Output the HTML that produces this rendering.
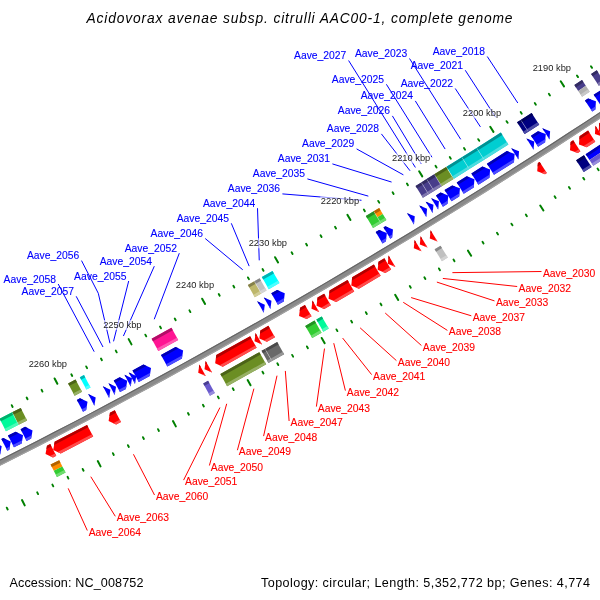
<!DOCTYPE html>
<html><head><meta charset="utf-8"><style>
html,body{margin:0;padding:0;background:#fff;}
body{width:600px;height:600px;overflow:hidden;position:relative;font-family:"Liberation Sans",sans-serif;}
svg{position:absolute;left:0;top:0;will-change:transform;}
</style></head><body>
<svg width="600" height="600" viewBox="0 0 600 600" font-family="Liberation Sans, sans-serif">
<rect width="600" height="600" fill="#fff"/>
<line x1="487.25" y1="56.50" x2="517.81" y2="103.00" stroke="#0000ff" stroke-width="1"/>
<line x1="465.25" y1="70.25" x2="495.62" y2="117.21" stroke="#0000ff" stroke-width="1"/>
<line x1="455.25" y1="88.50" x2="480.43" y2="126.87" stroke="#0000ff" stroke-width="1"/>
<line x1="409.50" y1="58.50" x2="460.70" y2="139.31" stroke="#0000ff" stroke-width="1"/>
<line x1="415.30" y1="100.90" x2="445.14" y2="149.05" stroke="#0000ff" stroke-width="1"/>
<line x1="386.40" y1="84.30" x2="431.96" y2="157.24" stroke="#0000ff" stroke-width="1"/>
<line x1="392.40" y1="115.90" x2="421.23" y2="163.88" stroke="#0000ff" stroke-width="1"/>
<line x1="348.60" y1="60.50" x2="415.40" y2="167.47" stroke="#0000ff" stroke-width="1"/>
<line x1="381.40" y1="133.90" x2="410.04" y2="170.77" stroke="#0000ff" stroke-width="1"/>
<line x1="356.60" y1="148.90" x2="403.39" y2="174.85" stroke="#0000ff" stroke-width="1"/>
<line x1="332.40" y1="163.90" x2="391.59" y2="182.05" stroke="#0000ff" stroke-width="1"/>
<line x1="307.40" y1="178.90" x2="368.34" y2="196.14" stroke="#0000ff" stroke-width="1"/>
<line x1="282.40" y1="193.90" x2="361.47" y2="200.28" stroke="#0000ff" stroke-width="1"/>
<line x1="257.50" y1="208.20" x2="259.24" y2="260.35" stroke="#0000ff" stroke-width="1"/>
<line x1="231.30" y1="223.30" x2="249.16" y2="266.13" stroke="#0000ff" stroke-width="1"/>
<line x1="205.20" y1="238.50" x2="242.75" y2="269.79" stroke="#0000ff" stroke-width="1"/>
<line x1="179.30" y1="253.20" x2="154.23" y2="319.26" stroke="#0000ff" stroke-width="1"/>
<line x1="154.30" y1="266.20" x2="123.42" y2="336.02" stroke="#0000ff" stroke-width="1"/>
<line x1="128.70" y1="281.00" x2="113.52" y2="341.36" stroke="#0000ff" stroke-width="1"/>
<polyline points="81.50,260.60 98.30,293.30 109.98,343.26" fill="none" stroke="#0000ff" stroke-width="1"/>
<line x1="76.20" y1="296.30" x2="103.00" y2="347.00" stroke="#0000ff" stroke-width="1"/>
<line x1="58.20" y1="284.00" x2="94.20" y2="351.70" stroke="#0000ff" stroke-width="1"/>
<line x1="452.39" y1="272.65" x2="541.50" y2="271.50" stroke="#ff0000" stroke-width="1"/>
<line x1="442.85" y1="278.45" x2="517.20" y2="286.50" stroke="#ff0000" stroke-width="1"/>
<line x1="436.87" y1="282.08" x2="494.50" y2="300.90" stroke="#ff0000" stroke-width="1"/>
<line x1="411.14" y1="297.59" x2="471.30" y2="315.80" stroke="#ff0000" stroke-width="1"/>
<line x1="403.26" y1="302.30" x2="447.40" y2="330.40" stroke="#ff0000" stroke-width="1"/>
<line x1="385.22" y1="313.04" x2="421.40" y2="345.50" stroke="#ff0000" stroke-width="1"/>
<line x1="360.13" y1="327.83" x2="396.40" y2="360.60" stroke="#ff0000" stroke-width="1"/>
<line x1="342.63" y1="338.05" x2="371.60" y2="374.60" stroke="#ff0000" stroke-width="1"/>
<line x1="333.76" y1="343.19" x2="345.40" y2="390.60" stroke="#ff0000" stroke-width="1"/>
<line x1="324.49" y1="348.56" x2="316.40" y2="406.60" stroke="#ff0000" stroke-width="1"/>
<line x1="285.34" y1="370.95" x2="289.10" y2="421.00" stroke="#ff0000" stroke-width="1"/>
<line x1="277.01" y1="375.67" x2="263.60" y2="436.10" stroke="#ff0000" stroke-width="1"/>
<line x1="253.92" y1="388.66" x2="237.40" y2="450.20" stroke="#ff0000" stroke-width="1"/>
<line x1="226.70" y1="403.79" x2="209.40" y2="465.50" stroke="#ff0000" stroke-width="1"/>
<line x1="219.95" y1="407.52" x2="183.60" y2="480.10" stroke="#ff0000" stroke-width="1"/>
<line x1="133.44" y1="454.28" x2="154.50" y2="495.00" stroke="#ff0000" stroke-width="1"/>
<line x1="90.79" y1="476.68" x2="115.30" y2="516.30" stroke="#ff0000" stroke-width="1"/>
<line x1="68.19" y1="488.37" x2="87.30" y2="530.50" stroke="#ff0000" stroke-width="1"/>
<polygon points="653.56,76.28 636.55,87.71 619.51,99.08 602.43,110.39 585.30,121.65 568.14,132.84 550.95,143.98 533.71,155.06 516.44,166.08 499.13,177.04 481.78,187.94 464.39,198.79 446.97,209.57 429.51,220.29 412.02,230.96 394.49,241.56 376.92,252.11 359.32,262.60 341.68,273.02 324.00,283.39 306.30,293.69 288.55,303.94 270.77,314.13 252.96,324.25 235.11,334.31 217.23,344.32 199.32,354.26 181.37,364.14 163.38,373.96 145.37,383.72 127.32,393.42 109.23,403.05 91.12,412.63 72.97,422.14 54.79,431.59 36.58,440.98 18.34,450.30 0.06,459.57 -18.24,468.77 -36.58,477.91 -54.95,486.99 -52.48,492.01 -34.09,482.93 -15.74,473.78 2.59,464.57 20.88,455.29 39.14,445.96 57.37,436.56 75.56,427.10 93.73,417.58 111.86,408.00 129.96,398.35 148.03,388.65 166.06,378.88 184.06,369.05 202.02,359.16 219.96,349.21 237.85,339.20 255.72,329.12 273.55,318.99 291.34,308.79 309.10,298.54 326.83,288.22 344.52,277.85 362.17,267.41 379.79,256.92 397.38,246.36 414.92,235.75 432.44,225.07 449.91,214.34 467.35,203.54 484.75,192.69 502.11,181.78 519.44,170.80 536.73,159.77 553.98,148.68 571.20,137.54 588.37,126.33 605.51,115.07 622.61,103.74 639.67,92.36 656.69,80.92" fill="#8a8a8a"/>
<polygon points="653.56,76.28 636.55,87.71 619.51,99.08 602.43,110.39 585.30,121.65 568.14,132.84 550.95,143.98 533.71,155.06 516.44,166.08 499.13,177.04 481.78,187.94 464.39,198.79 446.97,209.57 429.51,220.29 412.02,230.96 394.49,241.56 376.92,252.11 359.32,262.60 341.68,273.02 324.00,283.39 306.30,293.69 288.55,303.94 270.77,314.13 252.96,324.25 235.11,334.31 217.23,344.32 199.32,354.26 181.37,364.14 163.38,373.96 145.37,383.72 127.32,393.42 109.23,403.05 91.12,412.63 72.97,422.14 54.79,431.59 36.58,440.98 18.34,450.30 0.06,459.57 -18.24,468.77 -36.58,477.91 -54.95,486.99 -54.47,487.97 -36.09,478.90 -17.75,469.75 0.56,460.55 18.84,451.28 37.08,441.96 55.30,432.57 73.48,423.11 91.63,413.60 109.75,404.02 127.84,394.39 145.89,384.69 163.91,374.93 181.89,365.10 199.85,355.22 217.77,345.28 235.65,335.27 253.50,325.21 271.32,315.08 289.10,304.89 306.85,294.65 324.56,284.34 342.24,273.97 359.88,263.54 377.48,253.05 395.05,242.51 412.59,231.90 430.09,221.23 447.55,210.51 464.97,199.72 482.36,188.87 499.71,177.97 517.03,167.01 534.30,155.98 551.54,144.90 568.74,133.76 585.91,122.57 603.03,111.31 620.12,99.99 637.17,88.62 654.17,77.19" fill="#646464"/>
<polygon points="656.08,80.01 639.06,91.45 622.00,102.83 604.90,114.15 587.77,125.41 570.60,136.61 553.39,147.76 536.14,158.85 518.85,169.88 501.53,180.85 484.17,191.76 466.77,202.61 449.33,213.40 431.86,224.13 414.35,234.81 396.81,245.42 379.23,255.97 361.61,266.47 343.96,276.90 326.27,287.27 308.55,297.59 290.80,307.84 273.00,318.03 255.18,328.17 237.32,338.24 219.42,348.25 201.49,358.20 183.53,368.09 165.53,377.91 147.50,387.68 129.44,397.38 111.34,407.03 93.22,416.61 75.05,426.13 56.86,435.58 38.64,444.98 20.38,454.31 2.09,463.59 -16.23,472.79 -34.58,481.94 -52.96,491.03 -52.48,492.01 -34.09,482.93 -15.74,473.78 2.59,464.57 20.88,455.29 39.14,445.96 57.37,436.56 75.56,427.10 93.73,417.58 111.86,408.00 129.96,398.35 148.03,388.65 166.06,378.88 184.06,369.05 202.02,359.16 219.96,349.21 237.85,339.20 255.72,329.12 273.55,318.99 291.34,308.79 309.10,298.54 326.83,288.22 344.52,277.85 362.17,267.41 379.79,256.92 397.38,246.36 414.92,235.75 432.44,225.07 449.91,214.34 467.35,203.54 484.75,192.69 502.11,181.78 519.44,170.80 536.73,159.77 553.98,148.68 571.20,137.54 588.37,126.33 605.51,115.07 622.61,103.74 639.67,92.36 656.69,80.92" fill="#a2a2a2"/>
<line x1="619.98" y1="49.21" x2="618.87" y2="47.55" stroke="#008000" stroke-width="1.9" stroke-linecap="round"/>
<line x1="606.03" y1="58.56" x2="604.92" y2="56.89" stroke="#008000" stroke-width="1.9" stroke-linecap="round"/>
<line x1="592.05" y1="67.86" x2="590.94" y2="66.19" stroke="#008000" stroke-width="1.9" stroke-linecap="round"/>
<line x1="578.04" y1="77.12" x2="576.94" y2="75.45" stroke="#008000" stroke-width="1.9" stroke-linecap="round"/>
<line x1="564.01" y1="86.34" x2="560.72" y2="81.32" stroke="#008000" stroke-width="2.0" stroke-linecap="round"/>
<line x1="549.95" y1="95.53" x2="548.86" y2="93.85" stroke="#008000" stroke-width="1.9" stroke-linecap="round"/>
<line x1="535.86" y1="104.67" x2="534.78" y2="102.99" stroke="#008000" stroke-width="1.9" stroke-linecap="round"/>
<line x1="521.75" y1="113.78" x2="520.67" y2="112.09" stroke="#008000" stroke-width="1.9" stroke-linecap="round"/>
<line x1="507.62" y1="122.84" x2="506.54" y2="121.16" stroke="#008000" stroke-width="1.9" stroke-linecap="round"/>
<line x1="493.46" y1="131.87" x2="490.24" y2="126.80" stroke="#008000" stroke-width="2.0" stroke-linecap="round"/>
<line x1="479.27" y1="140.85" x2="478.20" y2="139.16" stroke="#008000" stroke-width="1.9" stroke-linecap="round"/>
<line x1="465.06" y1="149.80" x2="463.99" y2="148.10" stroke="#008000" stroke-width="1.9" stroke-linecap="round"/>
<line x1="450.82" y1="158.70" x2="449.76" y2="157.01" stroke="#008000" stroke-width="1.9" stroke-linecap="round"/>
<line x1="436.56" y1="167.57" x2="435.50" y2="165.87" stroke="#008000" stroke-width="1.9" stroke-linecap="round"/>
<line x1="422.27" y1="176.39" x2="419.13" y2="171.29" stroke="#008000" stroke-width="2.0" stroke-linecap="round"/>
<line x1="407.96" y1="185.18" x2="406.92" y2="183.47" stroke="#008000" stroke-width="1.9" stroke-linecap="round"/>
<line x1="393.62" y1="193.93" x2="392.59" y2="192.22" stroke="#008000" stroke-width="1.9" stroke-linecap="round"/>
<line x1="379.26" y1="202.63" x2="378.23" y2="200.92" stroke="#008000" stroke-width="1.9" stroke-linecap="round"/>
<line x1="364.88" y1="211.29" x2="363.85" y2="209.58" stroke="#008000" stroke-width="1.9" stroke-linecap="round"/>
<line x1="350.47" y1="219.92" x2="347.40" y2="214.77" stroke="#008000" stroke-width="2.0" stroke-linecap="round"/>
<line x1="336.04" y1="228.50" x2="335.02" y2="226.78" stroke="#008000" stroke-width="1.9" stroke-linecap="round"/>
<line x1="321.58" y1="237.05" x2="320.56" y2="235.32" stroke="#008000" stroke-width="1.9" stroke-linecap="round"/>
<line x1="307.10" y1="245.55" x2="306.09" y2="243.82" stroke="#008000" stroke-width="1.9" stroke-linecap="round"/>
<line x1="292.59" y1="254.01" x2="291.59" y2="252.28" stroke="#008000" stroke-width="1.9" stroke-linecap="round"/>
<line x1="278.06" y1="262.43" x2="275.06" y2="257.24" stroke="#008000" stroke-width="2.0" stroke-linecap="round"/>
<line x1="263.51" y1="270.81" x2="262.52" y2="269.08" stroke="#008000" stroke-width="1.9" stroke-linecap="round"/>
<line x1="248.94" y1="279.15" x2="247.95" y2="277.41" stroke="#008000" stroke-width="1.9" stroke-linecap="round"/>
<line x1="234.34" y1="287.45" x2="233.35" y2="285.71" stroke="#008000" stroke-width="1.9" stroke-linecap="round"/>
<line x1="219.71" y1="295.71" x2="218.73" y2="293.96" stroke="#008000" stroke-width="1.9" stroke-linecap="round"/>
<line x1="205.07" y1="303.92" x2="202.14" y2="298.68" stroke="#008000" stroke-width="2.0" stroke-linecap="round"/>
<line x1="190.40" y1="312.10" x2="189.43" y2="310.35" stroke="#008000" stroke-width="1.9" stroke-linecap="round"/>
<line x1="175.71" y1="320.23" x2="174.74" y2="318.48" stroke="#008000" stroke-width="1.9" stroke-linecap="round"/>
<line x1="160.99" y1="328.32" x2="160.03" y2="326.57" stroke="#008000" stroke-width="1.9" stroke-linecap="round"/>
<line x1="146.26" y1="336.37" x2="145.30" y2="334.62" stroke="#008000" stroke-width="1.9" stroke-linecap="round"/>
<line x1="131.50" y1="344.38" x2="128.64" y2="339.11" stroke="#008000" stroke-width="2.0" stroke-linecap="round"/>
<line x1="116.72" y1="352.35" x2="115.77" y2="350.59" stroke="#008000" stroke-width="1.9" stroke-linecap="round"/>
<line x1="101.91" y1="360.28" x2="100.97" y2="358.51" stroke="#008000" stroke-width="1.9" stroke-linecap="round"/>
<line x1="87.09" y1="368.16" x2="86.15" y2="366.40" stroke="#008000" stroke-width="1.9" stroke-linecap="round"/>
<line x1="72.24" y1="376.01" x2="71.31" y2="374.24" stroke="#008000" stroke-width="1.9" stroke-linecap="round"/>
<line x1="57.37" y1="383.81" x2="54.59" y2="378.49" stroke="#008000" stroke-width="2.0" stroke-linecap="round"/>
<line x1="42.47" y1="391.57" x2="41.55" y2="389.79" stroke="#008000" stroke-width="1.9" stroke-linecap="round"/>
<line x1="27.56" y1="399.28" x2="26.64" y2="397.51" stroke="#008000" stroke-width="1.9" stroke-linecap="round"/>
<line x1="12.62" y1="406.96" x2="11.71" y2="405.18" stroke="#008000" stroke-width="1.9" stroke-linecap="round"/>
<line x1="-2.33" y1="414.59" x2="-3.24" y2="412.81" stroke="#008000" stroke-width="1.9" stroke-linecap="round"/>
<line x1="-17.31" y1="422.19" x2="-20.02" y2="416.83" stroke="#008000" stroke-width="2.0" stroke-linecap="round"/>
<line x1="-32.31" y1="429.74" x2="-33.21" y2="427.95" stroke="#008000" stroke-width="1.9" stroke-linecap="round"/>
<line x1="-47.33" y1="437.24" x2="-48.22" y2="435.45" stroke="#008000" stroke-width="1.9" stroke-linecap="round"/>
<line x1="-62.37" y1="444.71" x2="-63.26" y2="442.92" stroke="#008000" stroke-width="1.9" stroke-linecap="round"/>
<line x1="668.59" y1="121.61" x2="669.71" y2="123.27" stroke="#008000" stroke-width="1.9" stroke-linecap="round"/>
<line x1="654.43" y1="131.09" x2="655.54" y2="132.75" stroke="#008000" stroke-width="1.9" stroke-linecap="round"/>
<line x1="640.25" y1="140.52" x2="641.35" y2="142.19" stroke="#008000" stroke-width="1.9" stroke-linecap="round"/>
<line x1="626.04" y1="149.92" x2="627.14" y2="151.59" stroke="#008000" stroke-width="1.9" stroke-linecap="round"/>
<line x1="611.80" y1="159.28" x2="615.09" y2="164.30" stroke="#008000" stroke-width="2.0" stroke-linecap="round"/>
<line x1="597.53" y1="168.60" x2="598.63" y2="170.27" stroke="#008000" stroke-width="1.9" stroke-linecap="round"/>
<line x1="583.24" y1="177.88" x2="584.33" y2="179.55" stroke="#008000" stroke-width="1.9" stroke-linecap="round"/>
<line x1="568.93" y1="187.11" x2="570.01" y2="188.80" stroke="#008000" stroke-width="1.9" stroke-linecap="round"/>
<line x1="554.59" y1="196.31" x2="555.66" y2="198.00" stroke="#008000" stroke-width="1.9" stroke-linecap="round"/>
<line x1="540.22" y1="205.47" x2="543.44" y2="210.53" stroke="#008000" stroke-width="2.0" stroke-linecap="round"/>
<line x1="525.82" y1="214.58" x2="526.89" y2="216.28" stroke="#008000" stroke-width="1.9" stroke-linecap="round"/>
<line x1="511.41" y1="223.66" x2="512.47" y2="225.35" stroke="#008000" stroke-width="1.9" stroke-linecap="round"/>
<line x1="496.96" y1="232.70" x2="498.02" y2="234.39" stroke="#008000" stroke-width="1.9" stroke-linecap="round"/>
<line x1="482.49" y1="241.69" x2="483.54" y2="243.39" stroke="#008000" stroke-width="1.9" stroke-linecap="round"/>
<line x1="468.00" y1="250.65" x2="471.14" y2="255.75" stroke="#008000" stroke-width="2.0" stroke-linecap="round"/>
<line x1="453.48" y1="259.56" x2="454.52" y2="261.26" stroke="#008000" stroke-width="1.9" stroke-linecap="round"/>
<line x1="438.93" y1="268.43" x2="439.97" y2="270.14" stroke="#008000" stroke-width="1.9" stroke-linecap="round"/>
<line x1="424.36" y1="277.26" x2="425.40" y2="278.98" stroke="#008000" stroke-width="1.9" stroke-linecap="round"/>
<line x1="409.77" y1="286.05" x2="410.80" y2="287.77" stroke="#008000" stroke-width="1.9" stroke-linecap="round"/>
<line x1="395.15" y1="294.80" x2="398.22" y2="299.96" stroke="#008000" stroke-width="2.0" stroke-linecap="round"/>
<line x1="380.50" y1="303.51" x2="381.52" y2="305.23" stroke="#008000" stroke-width="1.9" stroke-linecap="round"/>
<line x1="365.84" y1="312.18" x2="366.85" y2="313.90" stroke="#008000" stroke-width="1.9" stroke-linecap="round"/>
<line x1="351.14" y1="320.81" x2="352.15" y2="322.53" stroke="#008000" stroke-width="1.9" stroke-linecap="round"/>
<line x1="336.43" y1="329.39" x2="337.43" y2="331.12" stroke="#008000" stroke-width="1.9" stroke-linecap="round"/>
<line x1="321.69" y1="337.94" x2="324.69" y2="343.13" stroke="#008000" stroke-width="2.0" stroke-linecap="round"/>
<line x1="306.92" y1="346.44" x2="307.92" y2="348.17" stroke="#008000" stroke-width="1.9" stroke-linecap="round"/>
<line x1="292.13" y1="354.90" x2="293.12" y2="356.64" stroke="#008000" stroke-width="1.9" stroke-linecap="round"/>
<line x1="277.32" y1="363.32" x2="278.31" y2="365.06" stroke="#008000" stroke-width="1.9" stroke-linecap="round"/>
<line x1="262.49" y1="371.70" x2="263.47" y2="373.44" stroke="#008000" stroke-width="1.9" stroke-linecap="round"/>
<line x1="247.63" y1="380.03" x2="250.55" y2="385.27" stroke="#008000" stroke-width="2.0" stroke-linecap="round"/>
<line x1="232.74" y1="388.33" x2="233.71" y2="390.07" stroke="#008000" stroke-width="1.9" stroke-linecap="round"/>
<line x1="217.84" y1="396.58" x2="218.80" y2="398.33" stroke="#008000" stroke-width="1.9" stroke-linecap="round"/>
<line x1="202.91" y1="404.79" x2="203.87" y2="406.54" stroke="#008000" stroke-width="1.9" stroke-linecap="round"/>
<line x1="187.96" y1="412.96" x2="188.91" y2="414.71" stroke="#008000" stroke-width="1.9" stroke-linecap="round"/>
<line x1="172.98" y1="421.08" x2="175.84" y2="426.36" stroke="#008000" stroke-width="2.0" stroke-linecap="round"/>
<line x1="157.98" y1="429.17" x2="158.93" y2="430.93" stroke="#008000" stroke-width="1.9" stroke-linecap="round"/>
<line x1="142.96" y1="437.21" x2="143.91" y2="438.97" stroke="#008000" stroke-width="1.9" stroke-linecap="round"/>
<line x1="127.92" y1="445.21" x2="128.86" y2="446.98" stroke="#008000" stroke-width="1.9" stroke-linecap="round"/>
<line x1="112.86" y1="453.17" x2="113.79" y2="454.94" stroke="#008000" stroke-width="1.9" stroke-linecap="round"/>
<line x1="97.77" y1="461.08" x2="100.55" y2="466.40" stroke="#008000" stroke-width="2.0" stroke-linecap="round"/>
<line x1="82.66" y1="468.96" x2="83.58" y2="470.73" stroke="#008000" stroke-width="1.9" stroke-linecap="round"/>
<line x1="67.53" y1="476.79" x2="68.44" y2="478.56" stroke="#008000" stroke-width="1.9" stroke-linecap="round"/>
<line x1="52.37" y1="484.57" x2="53.29" y2="486.35" stroke="#008000" stroke-width="1.9" stroke-linecap="round"/>
<line x1="37.20" y1="492.32" x2="38.11" y2="494.10" stroke="#008000" stroke-width="1.9" stroke-linecap="round"/>
<line x1="22.00" y1="500.02" x2="24.71" y2="505.38" stroke="#008000" stroke-width="2.0" stroke-linecap="round"/>
<line x1="6.78" y1="507.68" x2="7.68" y2="509.47" stroke="#008000" stroke-width="1.9" stroke-linecap="round"/>
<line x1="-8.46" y1="515.30" x2="-7.57" y2="517.09" stroke="#008000" stroke-width="1.9" stroke-linecap="round"/>
<line x1="-23.72" y1="522.87" x2="-22.83" y2="524.67" stroke="#008000" stroke-width="1.9" stroke-linecap="round"/>
<polygon points="520.73,119.90 517.05,122.26 524.61,134.05 528.29,131.68" fill="#000080"/>
<polygon points="520.73,119.90 522.24,122.26 518.56,124.62 517.05,122.26 520.73,119.90" fill="#00005a"/>
<polygon points="523.09,131.69 526.78,129.33 528.29,131.68 524.61,134.05 523.09,131.69" fill="#4c4ca6"/>
<polygon points="531.63,112.89 520.73,119.90 528.29,131.68 539.22,124.65" fill="#000080"/>
<polygon points="531.63,112.89 533.14,115.24 522.24,122.26 520.73,119.90 531.63,112.89" fill="#00005a"/>
<polygon points="526.78,129.33 537.70,122.30 539.22,124.65 528.29,131.68 526.78,129.33" fill="#4c4ca6"/>
<polygon points="581.99,80.03 585.84,85.87 578.21,90.89 574.37,85.05 581.99,80.03" fill="#483d8b"/>
<polygon points="578.21,90.89 585.84,85.87 589.70,91.71 582.06,96.74 578.21,90.89" fill="#b0b0b0"/>
<polygon points="581.99,80.03 583.53,82.36 575.91,87.38 574.37,85.05 581.99,80.03" fill="#322b61"/>
<polygon points="580.52,94.40 588.16,89.37 589.70,91.71 582.06,96.74 580.52,94.40" fill="#c8c8c8"/>
<polygon points="596.74,70.26 591.11,73.99 598.84,85.67 604.49,81.93" fill="#483d8b"/>
<polygon points="596.74,70.26 598.29,72.59 592.66,76.33 591.11,73.99 596.74,70.26" fill="#322b61"/>
<polygon points="597.30,83.33 602.94,79.59 604.49,81.93 598.84,85.67 597.30,83.33" fill="#7f77ae"/>
<polygon points="526.47,138.56 534.24,141.41 533.59,149.67" fill="#0000ff"/>
<polygon points="529.57,139.70 527.89,140.78 526.47,138.56 529.57,139.70" fill="#0000b2"/>
<polygon points="533.59,149.67 532.16,147.45 533.85,146.37 533.59,149.67" fill="#4c4cff"/>
<polygon points="530.98,135.66 537.98,131.16 545.75,134.00 545.12,142.26 538.11,146.77" fill="#0000ff"/>
<polygon points="537.98,131.16 541.09,132.30 532.40,137.89 530.98,135.66 537.98,131.16" fill="#0000b2"/>
<polygon points="545.12,142.26 538.11,146.77 536.68,144.55 545.38,138.95 545.12,142.26" fill="#4c4cff"/>
<polygon points="542.33,128.35 550.11,131.18 549.49,139.44" fill="#0000ff"/>
<polygon points="545.44,129.49 543.77,130.57 542.33,128.35 545.44,129.49" fill="#0000b2"/>
<polygon points="549.49,139.44 548.06,137.22 549.74,136.14 549.49,139.44" fill="#4c4cff"/>
<polygon points="584.97,100.57 588.10,98.51 595.91,101.27 595.36,109.54 592.23,111.60" fill="#0000ff"/>
<polygon points="588.10,98.51 591.23,99.62 586.43,102.78 584.97,100.57 588.10,98.51" fill="#0000b2"/>
<polygon points="595.36,109.54 592.23,111.60 590.78,109.39 595.58,106.23 595.36,109.54" fill="#4c4cff"/>
<polygon points="593.71,94.82 615.32,80.48 623.14,83.20 622.64,91.47 600.98,105.83" fill="#0000ff"/>
<polygon points="615.32,80.48 618.45,81.57 595.16,97.02 593.71,94.82 615.32,80.48" fill="#0000b2"/>
<polygon points="622.64,91.47 600.98,105.83 599.52,103.63 622.84,88.16 622.64,91.47" fill="#4c4cff"/>
<polygon points="461.84,157.24 446.55,166.78 453.94,178.67 469.27,169.11" fill="#00ced1"/>
<polygon points="461.84,157.24 463.32,159.62 448.03,169.16 446.55,166.78 461.84,157.24" fill="#009092"/>
<polygon points="452.47,176.29 467.78,166.74 469.27,169.11 453.94,178.67 452.47,176.29" fill="#4cdddf"/>
<polygon points="476.69,147.92 461.84,157.24 469.27,169.11 484.15,159.76" fill="#00ced1"/>
<polygon points="476.69,147.92 478.18,150.29 463.32,159.62 461.84,157.24 476.69,147.92" fill="#009092"/>
<polygon points="467.78,166.74 482.66,157.39 484.15,159.76 469.27,169.11 467.78,166.74" fill="#4cdddf"/>
<polygon points="500.86,132.61 476.69,147.92 484.15,159.76 508.38,144.42" fill="#00ced1"/>
<polygon points="500.86,132.61 502.36,134.97 478.18,150.29 476.69,147.92 500.86,132.61" fill="#009092"/>
<polygon points="482.66,157.39 506.88,142.06 508.38,144.42 484.15,159.76 482.66,157.39" fill="#4cdddf"/>
<polygon points="444.58,190.12 452.24,185.38 459.97,188.35 459.20,196.60 451.53,201.35" fill="#0000ff"/>
<polygon points="452.24,185.38 455.33,186.57 445.97,192.37 444.58,190.12 452.24,185.38" fill="#0000b2"/>
<polygon points="459.20,196.60 451.53,201.35 450.14,199.10 459.51,193.30 459.20,196.60" fill="#4c4cff"/>
<polygon points="456.75,182.58 466.73,176.35 474.47,179.30 473.73,187.55 463.72,193.79" fill="#0000ff"/>
<polygon points="466.73,176.35 469.83,177.54 458.14,184.82 456.75,182.58 466.73,176.35" fill="#0000b2"/>
<polygon points="473.73,187.55 463.72,193.79 462.32,191.55 474.03,184.25 473.73,187.55" fill="#4c4cff"/>
<polygon points="471.39,173.44 482.40,166.54 490.14,169.46 489.43,177.71 478.39,184.63" fill="#0000ff"/>
<polygon points="482.40,166.54 485.50,167.71 472.79,175.68 471.39,173.44 482.40,166.54" fill="#0000b2"/>
<polygon points="489.43,177.71 478.39,184.63 476.99,182.40 489.71,174.41 489.43,177.71" fill="#4c4cff"/>
<polygon points="486.94,163.68 506.87,151.07 514.63,153.95 513.95,162.21 493.98,174.85" fill="#0000ff"/>
<polygon points="506.87,151.07 509.97,152.22 488.35,165.91 486.94,163.68 506.87,151.07" fill="#0000b2"/>
<polygon points="513.95,162.21 493.98,174.85 492.57,172.61 514.22,158.91 513.95,162.21" fill="#4c4cff"/>
<polygon points="511.28,148.26 519.04,151.14 518.37,159.40" fill="#0000ff"/>
<polygon points="514.38,149.42 512.69,150.49 511.28,148.26 514.38,149.42" fill="#0000b2"/>
<polygon points="518.37,159.40 516.95,157.17 518.64,156.10 518.37,159.40" fill="#4c4cff"/>
<polygon points="446.11,167.05 434.31,174.37 441.67,186.28 453.50,178.94" fill="#6b8e23"/>
<polygon points="446.11,167.05 447.59,169.43 435.78,176.75 434.31,174.37 446.11,167.05" fill="#4b6318"/>
<polygon points="440.20,183.90 452.02,176.57 453.50,178.94 441.67,186.28 440.20,183.90" fill="#97b065"/>
<polygon points="421.30,182.39 415.56,185.92 422.88,197.85 428.64,194.32" fill="#483d8b"/>
<polygon points="421.30,182.39 422.77,184.78 417.03,188.30 415.56,185.92 421.30,182.39" fill="#322b61"/>
<polygon points="421.42,195.46 427.17,191.93 428.64,194.32 422.88,197.85 421.42,195.46" fill="#7f77ae"/>
<polygon points="426.68,179.08 421.30,182.39 428.64,194.32 434.03,191.00" fill="#483d8b"/>
<polygon points="426.68,179.08 428.15,181.47 422.77,184.78 421.30,182.39 426.68,179.08" fill="#322b61"/>
<polygon points="427.17,191.93 432.56,188.62 434.03,191.00 428.64,194.32 427.17,191.93" fill="#7f77ae"/>
<polygon points="434.31,174.37 426.68,179.08 434.03,191.00 441.67,186.28" fill="#483d8b"/>
<polygon points="434.31,174.37 435.78,176.75 428.15,181.47 426.68,179.08 434.31,174.37" fill="#322b61"/>
<polygon points="432.56,188.62 440.20,183.90 441.67,186.28 434.03,191.00 432.56,188.62" fill="#7f77ae"/>
<polygon points="436.04,195.39 440.56,192.61 448.28,195.60 447.49,203.84 442.97,206.63" fill="#0000ff"/>
<polygon points="440.56,192.61 443.65,193.81 437.43,197.64 436.04,195.39 440.56,192.61" fill="#0000b2"/>
<polygon points="447.49,203.84 442.97,206.63 441.58,204.39 447.81,200.54 447.49,203.84" fill="#4c4cff"/>
<polygon points="431.22,198.36 438.94,201.36 438.14,209.61" fill="#0000ff"/>
<polygon points="434.31,199.56 432.61,200.61 431.22,198.36 434.31,199.56" fill="#0000b2"/>
<polygon points="438.14,209.61 436.75,207.36 438.46,206.31 438.14,209.61" fill="#4c4cff"/>
<polygon points="425.75,201.73 433.46,204.74 432.65,212.98" fill="#0000ff"/>
<polygon points="428.83,202.93 427.13,203.98 425.75,201.73 428.83,202.93" fill="#0000b2"/>
<polygon points="432.65,212.98 431.27,210.73 432.97,209.68 432.65,212.98" fill="#4c4cff"/>
<polygon points="419.38,205.62 427.09,208.64 426.27,216.88" fill="#0000ff"/>
<polygon points="422.46,206.83 420.76,207.88 419.38,205.62 422.46,206.83" fill="#0000b2"/>
<polygon points="426.27,216.88 424.89,214.63 426.60,213.59 426.27,216.88" fill="#4c4cff"/>
<polygon points="407.08,213.13 414.78,216.17 413.94,224.41" fill="#0000ff"/>
<polygon points="410.16,214.35 408.45,215.39 407.08,213.13 410.16,214.35" fill="#0000b2"/>
<polygon points="413.94,224.41 412.57,222.15 414.28,221.11 413.94,224.41" fill="#4c4cff"/>
<polygon points="373.77,211.32 365.86,216.07 373.07,228.07 380.99,223.31" fill="#32cd32"/>
<polygon points="373.77,211.32 375.21,213.72 367.30,218.47 365.86,216.07 373.77,211.32" fill="#239023"/>
<polygon points="371.62,225.67 379.55,220.91 380.99,223.31 373.07,228.07 371.62,225.67" fill="#70dc70"/>
<polygon points="379.16,208.07 382.78,214.06 377.38,217.31 373.77,211.32 379.16,208.07" fill="#ff8c00"/>
<polygon points="377.38,217.31 382.78,214.06 386.39,220.05 380.99,223.31 377.38,217.31" fill="#32cd32"/>
<polygon points="379.16,208.07 380.61,210.46 375.21,213.72 373.77,211.32 379.16,208.07" fill="#b26200"/>
<polygon points="379.55,220.91 384.95,217.66 386.39,220.05 380.99,223.31 379.55,220.91" fill="#70dc70"/>
<polygon points="375.74,232.07 379.14,230.03 386.82,233.11 385.94,241.34 382.53,243.39" fill="#0000ff"/>
<polygon points="379.14,230.03 382.21,231.26 377.10,234.33 375.74,232.07 379.14,230.03" fill="#0000b2"/>
<polygon points="385.94,241.34 382.53,243.39 381.17,241.12 386.29,238.05 385.94,241.34" fill="#4c4cff"/>
<polygon points="383.53,227.38 385.31,226.31 393.00,229.38 392.12,237.62 390.34,238.69" fill="#0000ff"/>
<polygon points="385.31,226.31 388.38,227.54 384.89,229.65 383.53,227.38 385.31,226.31" fill="#0000b2"/>
<polygon points="392.12,237.62 390.34,238.69 388.98,236.43 392.47,234.32 392.12,237.62" fill="#4c4cff"/>
<polygon points="254.34,281.36 247.86,285.06 254.79,297.22 261.28,293.52" fill="#bdb76b"/>
<polygon points="254.34,281.36 255.73,283.80 249.25,287.49 247.86,285.06 254.34,281.36" fill="#84804b"/>
<polygon points="253.40,294.79 259.89,291.09 261.28,293.52 254.79,297.22 253.40,294.79" fill="#d1cd97"/>
<polygon points="259.62,278.34 254.34,281.36 261.28,293.52 266.58,290.49" fill="#c0c0c0"/>
<polygon points="259.62,278.34 261.01,280.77 255.73,283.80 254.34,281.36 259.62,278.34" fill="#868686"/>
<polygon points="259.89,291.09 265.19,288.06 266.58,290.49 261.28,293.52 259.89,291.09" fill="#d3d3d3"/>
<polygon points="272.50,270.95 261.84,277.07 268.80,289.22 279.48,283.08" fill="#00ffff"/>
<polygon points="272.50,270.95 273.90,273.38 263.23,279.50 261.84,277.07 272.50,270.95" fill="#00b2b2"/>
<polygon points="267.41,286.79 278.09,280.66 279.48,283.08 268.80,289.22 267.41,286.79" fill="#4cffff"/>
<polygon points="271.31,293.31 277.15,289.96 284.77,293.19 283.73,301.41 277.87,304.77" fill="#0000ff"/>
<polygon points="277.15,289.96 280.20,291.26 272.62,295.61 271.31,293.31 277.15,289.96" fill="#0000b2"/>
<polygon points="283.73,301.41 277.87,304.77 276.56,302.48 284.15,298.12 283.73,301.41" fill="#4c4cff"/>
<polygon points="263.86,297.58 271.47,300.83 270.40,309.04" fill="#0000ff"/>
<polygon points="266.90,298.88 265.17,299.87 263.86,297.58 266.90,298.88" fill="#0000b2"/>
<polygon points="270.40,309.04 269.09,306.75 270.83,305.75 270.40,309.04" fill="#4c4cff"/>
<polygon points="257.21,301.37 264.82,304.63 263.74,312.84" fill="#0000ff"/>
<polygon points="260.25,302.67 258.52,303.66 257.21,301.37 260.25,302.67" fill="#0000b2"/>
<polygon points="263.74,312.84 262.43,310.54 264.17,309.55 263.74,312.84" fill="#4c4cff"/>
<polygon points="171.44,327.83 151.61,338.70 158.31,350.99 178.19,340.10" fill="#ff1493"/>
<polygon points="171.44,327.83 172.79,330.29 152.95,341.15 151.61,338.70 171.44,327.83" fill="#b20e67"/>
<polygon points="156.97,348.53 176.84,337.65 178.19,340.10 158.31,350.99 156.97,348.53" fill="#ff5ab3"/>
<polygon points="161.01,354.98 175.57,347.01 183.13,350.39 181.92,358.59 167.33,366.57" fill="#0000ff"/>
<polygon points="175.57,347.01 178.60,348.37 162.27,357.30 161.01,354.98 175.57,347.01" fill="#0000b2"/>
<polygon points="181.92,358.59 167.33,366.57 166.07,364.25 182.41,355.31 181.92,358.59" fill="#4c4cff"/>
<polygon points="75.52,379.47 68.10,383.38 74.61,395.77 82.05,391.86" fill="#6b8e23"/>
<polygon points="75.52,379.47 76.83,381.95 69.40,385.85 68.10,383.38 75.52,379.47" fill="#4b6318"/>
<polygon points="73.31,393.29 80.74,389.38 82.05,391.86 74.61,395.77 73.31,393.29" fill="#97b065"/>
<polygon points="83.99,375.01 79.84,377.20 86.37,389.58 90.54,387.38" fill="#00ffff"/>
<polygon points="83.99,375.01 85.30,377.48 81.15,379.67 79.84,377.20 83.99,375.01" fill="#00b2b2"/>
<polygon points="85.07,387.10 89.23,384.91 90.54,387.38 86.37,389.58 85.07,387.10" fill="#4cffff"/>
<polygon points="132.51,370.42 143.47,364.51 151.01,367.94 149.75,376.12 138.77,382.05" fill="#0000ff"/>
<polygon points="143.47,364.51 146.48,365.88 133.76,372.75 132.51,370.42 143.47,364.51" fill="#0000b2"/>
<polygon points="149.75,376.12 138.77,382.05 137.52,379.72 150.25,372.85 149.75,376.12" fill="#4c4cff"/>
<polygon points="128.73,372.46 136.26,375.90 134.98,384.09" fill="#0000ff"/>
<polygon points="131.74,373.84 129.98,374.79 128.73,372.46 131.74,373.84" fill="#0000b2"/>
<polygon points="134.98,384.09 133.73,381.76 135.49,380.81 134.98,384.09" fill="#4c4cff"/>
<polygon points="124.47,374.75 131.99,378.20 130.71,386.38" fill="#0000ff"/>
<polygon points="127.47,376.13 125.71,377.08 124.47,374.75 127.47,376.13" fill="#0000b2"/>
<polygon points="130.71,386.38 129.46,384.06 131.22,383.11 130.71,386.38" fill="#4c4cff"/>
<polygon points="113.78,380.46 119.71,377.30 127.23,380.76 125.94,388.94 120.00,392.11" fill="#0000ff"/>
<polygon points="119.71,377.30 122.71,378.68 115.03,382.79 113.78,380.46 119.71,377.30" fill="#0000b2"/>
<polygon points="125.94,388.94 120.00,392.11 118.76,389.78 126.45,385.66 125.94,388.94" fill="#4c4cff"/>
<polygon points="108.50,383.28 116.02,386.75 114.71,394.93" fill="#0000ff"/>
<polygon points="111.51,384.67 109.74,385.61 108.50,383.28 111.51,384.67" fill="#0000b2"/>
<polygon points="114.71,394.93 113.47,392.60 115.23,391.66 114.71,394.93" fill="#4c4cff"/>
<polygon points="102.90,386.26 110.42,389.74 109.10,397.92" fill="#0000ff"/>
<polygon points="105.91,387.65 104.14,388.59 102.90,386.26 105.91,387.65" fill="#0000b2"/>
<polygon points="109.10,397.92 107.86,395.58 109.63,394.65 109.10,397.92" fill="#4c4cff"/>
<polygon points="76.90,399.99 80.03,398.35 87.52,401.86 86.17,410.03 83.04,411.68" fill="#0000ff"/>
<polygon points="80.03,398.35 83.02,399.76 78.13,402.33 76.90,399.99 80.03,398.35" fill="#0000b2"/>
<polygon points="86.17,410.03 83.04,411.68 81.81,409.34 86.71,406.76 86.17,410.03" fill="#4c4cff"/>
<polygon points="88.21,394.04 95.71,397.54 94.37,405.71" fill="#0000ff"/>
<polygon points="91.21,395.44 89.45,396.37 88.21,394.04 91.21,395.44" fill="#0000b2"/>
<polygon points="94.37,405.71 93.14,403.38 94.91,402.44 94.37,405.71" fill="#4c4cff"/>
<polygon points="20.73,407.97 12.17,412.36 18.55,424.82 27.13,420.43" fill="#6b8e23"/>
<polygon points="20.73,407.97 22.01,410.46 13.45,414.85 12.17,412.36 20.73,407.97" fill="#4b6318"/>
<polygon points="17.27,422.33 25.85,417.94 27.13,420.43 18.55,424.82 17.27,422.33" fill="#97b065"/>
<polygon points="12.17,412.36 -0.38,418.76 5.97,431.24 18.55,424.82" fill="#00fa9a"/>
<polygon points="12.17,412.36 13.45,414.85 0.89,421.26 -0.38,418.76 12.17,412.36" fill="#00af6c"/>
<polygon points="4.70,428.74 17.27,422.33 18.55,424.82 5.97,431.24 4.70,428.74" fill="#4cfcb8"/>
<polygon points="20.61,429.16 25.09,426.87 32.55,430.46 31.11,438.61 26.62,440.91" fill="#0000ff"/>
<polygon points="25.09,426.87 28.07,428.31 21.81,431.51 20.61,429.16 25.09,426.87" fill="#0000b2"/>
<polygon points="31.11,438.61 26.62,440.91 25.42,438.56 31.68,435.35 31.11,438.61" fill="#4c4cff"/>
<polygon points="8.00,435.59 15.63,431.70 23.08,435.31 21.63,443.46 13.98,447.36" fill="#0000ff"/>
<polygon points="15.63,431.70 18.61,433.15 9.19,437.95 8.00,435.59 15.63,431.70" fill="#0000b2"/>
<polygon points="21.63,443.46 13.98,447.36 12.78,445.01 22.21,440.20 21.63,443.46" fill="#4c4cff"/>
<polygon points="1.36,438.96 3.33,437.96 10.78,441.58 9.31,449.73 7.33,450.74" fill="#0000ff"/>
<polygon points="3.33,437.96 6.31,439.41 2.55,441.32 1.36,438.96 3.33,437.96" fill="#0000b2"/>
<polygon points="9.31,449.73 7.33,450.74 6.13,448.38 9.90,446.47 9.31,449.73" fill="#4c4cff"/>
<polygon points="-16.11,447.79 -5.73,442.55 1.71,446.19 0.22,454.33 -10.18,459.58" fill="#0000ff"/>
<polygon points="-5.73,442.55 -2.76,444.01 -14.93,450.14 -16.11,447.79 -5.73,442.55" fill="#0000b2"/>
<polygon points="0.22,454.33 -10.18,459.58 -11.37,457.22 0.82,451.07 0.22,454.33" fill="#4c4cff"/>
<polygon points="539.69,161.91 537.87,163.08 537.22,171.33 544.99,174.20 546.81,173.03" fill="#ff0000"/>
<polygon points="539.69,161.91 541.12,164.14 537.61,166.38 537.87,163.08 539.69,161.91" fill="#b20000"/>
<polygon points="541.88,173.05 545.39,170.80 546.81,173.03 544.99,174.20 541.88,173.05" fill="#ff4c4c"/>
<polygon points="573.19,140.29 570.61,141.97 570.01,150.23 577.80,153.04 580.39,151.36" fill="#ff0000"/>
<polygon points="573.19,140.29 574.63,142.51 570.37,145.27 570.61,141.97 573.19,140.29" fill="#b20000"/>
<polygon points="574.68,151.92 578.95,149.15 580.39,151.36 577.80,153.04 574.68,151.92" fill="#ff4c4c"/>
<polygon points="588.04,130.61 579.54,136.16 578.96,144.42 586.75,147.22 595.27,141.65" fill="#ff0000"/>
<polygon points="588.04,130.61 589.49,132.82 579.31,139.46 579.54,136.16 588.04,130.61" fill="#b20000"/>
<polygon points="583.63,146.10 593.83,139.44 595.27,141.65 586.75,147.22 583.63,146.10" fill="#ff4c4c"/>
<polygon points="595.51,125.72 594.95,133.97 602.75,136.75" fill="#ff0000"/>
<polygon points="595.51,125.72 596.96,127.92 595.29,129.02 595.51,125.72" fill="#b20000"/>
<polygon points="599.63,135.64 601.30,134.54 602.75,136.75 599.63,135.64" fill="#ff4c4c"/>
<polygon points="624.19,106.78 599.20,123.29 598.64,131.55 606.45,134.32 631.49,117.77" fill="#ff0000"/>
<polygon points="624.19,106.78 625.65,108.97 598.98,126.60 599.20,123.29 624.19,106.78" fill="#b20000"/>
<polygon points="603.33,133.22 630.03,115.57 631.49,117.77 606.45,134.32 603.33,133.22" fill="#ff4c4c"/>
<polygon points="583.93,155.26 576.16,160.30 583.78,172.05 591.56,166.99" fill="#000080"/>
<polygon points="583.93,155.26 585.46,157.60 577.69,162.65 576.16,160.30 583.93,155.26" fill="#00005a"/>
<polygon points="582.26,169.70 590.04,164.65 591.56,166.99 583.78,172.05 582.26,169.70" fill="#4c4ca6"/>
<polygon points="620.75,131.13 624.60,136.97 589.47,160.01 585.65,154.14 620.75,131.13" fill="#0000ff"/>
<polygon points="589.47,160.01 624.60,136.97 628.46,142.81 593.29,165.87 589.47,160.01" fill="#6a5acd"/>
<polygon points="620.75,131.13 622.29,133.46 587.18,156.49 585.65,154.14 620.75,131.13" fill="#0000b2"/>
<polygon points="591.76,163.53 626.92,140.47 628.46,142.81 593.29,165.87 591.76,163.53" fill="#978cdc"/>
<polygon points="430.62,230.17 429.79,238.40 437.50,241.43" fill="#ff0000"/>
<polygon points="430.62,230.17 431.99,232.42 430.29,233.46 430.62,230.17" fill="#b20000"/>
<polygon points="434.42,240.22 436.12,239.18 437.50,241.43 434.42,240.22" fill="#ff4c4c"/>
<polygon points="420.66,236.24 419.82,244.47 427.52,247.51" fill="#ff0000"/>
<polygon points="420.66,236.24 422.03,238.49 420.33,239.53 420.66,236.24" fill="#b20000"/>
<polygon points="424.44,246.30 426.15,245.26 427.52,247.51 424.44,246.30" fill="#ff4c4c"/>
<polygon points="414.64,239.90 413.79,248.13 421.48,251.18" fill="#ff0000"/>
<polygon points="414.64,239.90 416.01,242.15 414.30,243.19 414.64,239.90" fill="#b20000"/>
<polygon points="418.40,249.96 420.12,248.93 421.48,251.18 418.40,249.96" fill="#ff4c4c"/>
<polygon points="440.53,245.67 434.64,249.27 441.93,261.22 447.83,257.62" fill="#c0c0c0"/>
<polygon points="440.53,245.67 441.99,248.06 436.10,251.66 434.64,249.27 440.53,245.67" fill="#868686"/>
<polygon points="440.47,258.83 446.37,255.23 447.83,257.62 441.93,261.22 440.47,258.83" fill="#d3d3d3"/>
<polygon points="388.62,255.59 387.73,263.82 395.41,266.91" fill="#ff0000"/>
<polygon points="388.62,255.59 389.98,257.85 388.27,258.88 388.62,255.59" fill="#b20000"/>
<polygon points="392.34,265.68 394.06,264.65 395.41,266.91 392.34,265.68" fill="#ff4c4c"/>
<polygon points="384.35,258.15 378.53,261.63 377.62,269.86 385.30,272.97 391.13,269.48" fill="#ff0000"/>
<polygon points="384.35,258.15 385.71,260.42 378.17,264.92 378.53,261.63 384.35,258.15" fill="#b20000"/>
<polygon points="382.23,271.73 389.78,267.21 391.13,269.48 385.30,272.97 382.23,271.73" fill="#ff4c4c"/>
<polygon points="373.88,264.41 352.20,277.27 351.25,285.49 358.91,288.63 380.63,275.75" fill="#ff0000"/>
<polygon points="373.88,264.41 375.23,266.68 351.82,280.56 352.20,277.27 373.88,264.41" fill="#b20000"/>
<polygon points="355.84,287.38 379.28,273.48 380.63,275.75 358.91,288.63 355.84,287.38" fill="#ff4c4c"/>
<polygon points="347.52,280.03 329.54,290.58 328.56,298.80 336.21,301.97 354.22,291.40" fill="#ff0000"/>
<polygon points="347.52,280.03 348.86,282.30 329.15,293.86 329.54,290.58 347.52,280.03" fill="#b20000"/>
<polygon points="333.15,300.70 352.88,289.13 354.22,291.40 336.21,301.97 333.15,300.70" fill="#ff4c4c"/>
<polygon points="324.14,293.73 317.54,297.57 316.54,305.79 324.18,308.98 330.79,305.14" fill="#ff0000"/>
<polygon points="324.14,293.73 325.47,296.01 317.14,300.86 317.54,297.57 324.14,293.73" fill="#b20000"/>
<polygon points="321.12,307.71 329.46,302.86 330.79,305.14 324.18,308.98 321.12,307.71" fill="#ff4c4c"/>
<polygon points="312.50,300.50 311.49,308.72 319.12,311.92" fill="#ff0000"/>
<polygon points="312.50,300.50 313.82,302.78 312.10,303.79 312.50,300.50" fill="#b20000"/>
<polygon points="316.07,310.64 317.80,309.63 319.12,311.92 316.07,310.64" fill="#ff4c4c"/>
<polygon points="304.93,304.88 300.10,307.67 299.07,315.89 306.70,319.11 311.54,316.31" fill="#ff0000"/>
<polygon points="304.93,304.88 306.25,307.17 299.69,310.96 300.10,307.67 304.93,304.88" fill="#b20000"/>
<polygon points="303.64,317.82 310.22,314.03 311.54,316.31 306.70,319.11 303.64,317.82" fill="#ff4c4c"/>
<polygon points="314.55,320.58 305.25,325.94 312.24,338.07 321.55,332.70" fill="#32cd32"/>
<polygon points="314.55,320.58 315.95,323.00 306.65,328.37 305.25,325.94 314.55,320.58" fill="#239023"/>
<polygon points="310.84,335.65 320.15,330.27 321.55,332.70 312.24,338.07 310.84,335.65" fill="#70dc70"/>
<polygon points="321.74,316.41 316.32,319.55 323.33,331.67 328.76,328.52" fill="#00fa9a"/>
<polygon points="321.74,316.41 323.14,318.83 317.72,321.98 316.32,319.55 321.74,316.41" fill="#00af6c"/>
<polygon points="321.93,329.25 327.36,326.10 328.76,328.52 323.33,331.67 321.93,329.25" fill="#4cfcb8"/>
<polygon points="268.40,325.83 260.41,330.38 259.31,338.58 266.92,341.86 274.93,337.31" fill="#ff0000"/>
<polygon points="268.40,325.83 269.71,328.13 259.97,333.66 260.41,330.38 268.40,325.83" fill="#b20000"/>
<polygon points="263.87,340.55 273.63,335.01 274.93,337.31 266.92,341.86 263.87,340.55" fill="#ff4c4c"/>
<polygon points="255.59,333.10 254.49,341.31 262.09,344.59" fill="#ff0000"/>
<polygon points="255.59,333.10 256.89,335.40 255.15,336.38 255.59,333.10" fill="#b20000"/>
<polygon points="259.05,343.28 260.79,342.29 262.09,344.59 259.05,343.28" fill="#ff4c4c"/>
<polygon points="250.13,336.18 216.32,355.12 215.15,363.32 222.73,366.66 256.62,347.68" fill="#ff0000"/>
<polygon points="250.13,336.18 251.43,338.48 215.85,358.40 216.32,355.12 250.13,336.18" fill="#b20000"/>
<polygon points="219.70,365.33 255.32,345.38 256.62,347.68 222.73,366.66 219.70,365.33" fill="#ff4c4c"/>
<polygon points="205.68,361.03 204.49,369.22 212.07,372.58" fill="#ff0000"/>
<polygon points="205.68,361.03 206.95,363.34 205.20,364.30 205.68,361.03" fill="#b20000"/>
<polygon points="209.04,371.23 210.79,370.27 212.07,372.58 209.04,371.23" fill="#ff4c4c"/>
<polygon points="199.37,364.51 198.18,372.70 205.75,376.07" fill="#ff0000"/>
<polygon points="199.37,364.51 200.65,366.82 198.90,367.79 199.37,364.51" fill="#b20000"/>
<polygon points="202.72,374.72 204.47,373.76 205.75,376.07 202.72,374.72" fill="#ff4c4c"/>
<polygon points="265.07,348.88 261.55,350.87 268.44,363.06 271.96,361.06" fill="#696969"/>
<polygon points="265.07,348.88 266.45,351.32 262.93,353.31 261.55,350.87 265.07,348.88" fill="#4a4a4a"/>
<polygon points="267.06,360.62 270.59,358.63 271.96,361.06 268.44,363.06 267.06,360.62" fill="#969696"/>
<polygon points="277.20,342.00 265.07,348.88 271.96,361.06 284.12,354.17" fill="#696969"/>
<polygon points="277.20,342.00 278.58,344.43 266.45,351.32 265.07,348.88 277.20,342.00" fill="#4a4a4a"/>
<polygon points="270.59,358.63 282.74,351.73 284.12,354.17 271.96,361.06 270.59,358.63" fill="#969696"/>
<polygon points="259.32,352.13 220.35,373.93 227.14,386.17 266.20,364.32" fill="#6b8e23"/>
<polygon points="259.32,352.13 260.69,354.57 221.71,376.38 220.35,373.93 259.32,352.13" fill="#4b6318"/>
<polygon points="225.78,383.73 264.82,361.88 266.20,364.32 227.14,386.17 225.78,383.73" fill="#97b065"/>
<polygon points="208.08,380.72 203.18,383.42 209.93,395.68 214.84,392.98" fill="#6a5acd"/>
<polygon points="208.08,380.72 209.43,383.17 204.53,385.87 203.18,383.42 208.08,380.72" fill="#4a3f90"/>
<polygon points="208.58,393.23 213.49,390.53 214.84,392.98 209.93,395.68 208.58,393.23" fill="#978cdc"/>
<polygon points="114.78,410.30 109.94,412.86 108.61,421.03 116.12,424.53 120.97,421.96" fill="#ff0000"/>
<polygon points="114.78,410.30 116.01,412.63 109.41,416.13 109.94,412.86 114.78,410.30" fill="#b20000"/>
<polygon points="113.12,423.13 119.73,419.63 120.97,421.96 116.12,424.53 113.12,423.13" fill="#ff4c4c"/>
<polygon points="87.06,424.93 54.65,441.79 53.24,449.95 60.71,453.52 93.19,436.62" fill="#ff0000"/>
<polygon points="87.06,424.93 88.28,427.26 54.09,445.06 54.65,441.79 87.06,424.93" fill="#b20000"/>
<polygon points="57.72,452.09 91.96,434.28 93.19,436.62 60.71,453.52 57.72,452.09" fill="#ff4c4c"/>
<polygon points="50.23,444.07 46.98,445.75 45.55,453.91 53.02,457.49 56.28,455.81" fill="#ff0000"/>
<polygon points="50.23,444.07 51.44,446.42 46.41,449.01 46.98,445.75 50.23,444.07" fill="#b20000"/>
<polygon points="50.03,456.06 55.07,453.46 56.28,455.81 53.02,457.49 50.03,456.06" fill="#ff4c4c"/>
<polygon points="59.18,460.16 62.39,466.38 53.75,470.83 50.56,464.60 59.18,460.16" fill="#ff8c00"/>
<polygon points="53.75,470.83 62.39,466.38 65.60,472.61 56.95,477.06 53.75,470.83" fill="#32cd32"/>
<polygon points="59.18,460.16 60.46,462.65 51.83,467.09 50.56,464.60 59.18,460.16" fill="#b26200"/>
<polygon points="55.67,474.56 64.31,470.12 65.60,472.61 56.95,477.06 55.67,474.56" fill="#70dc70"/>
<line x1="521.05" y1="120.41" x2="527.97" y2="131.18" stroke="#fff" stroke-opacity="0.45" stroke-width="0.7"/>
<line x1="477.01" y1="148.42" x2="483.83" y2="159.25" stroke="#fff" stroke-opacity="0.45" stroke-width="0.7"/>
<line x1="462.16" y1="157.75" x2="468.95" y2="168.60" stroke="#fff" stroke-opacity="0.45" stroke-width="0.7"/>
<line x1="434.63" y1="174.88" x2="441.36" y2="185.77" stroke="#fff" stroke-opacity="0.45" stroke-width="0.7"/>
<line x1="427.00" y1="179.59" x2="433.71" y2="190.49" stroke="#fff" stroke-opacity="0.45" stroke-width="0.7"/>
<line x1="421.62" y1="182.90" x2="428.32" y2="193.81" stroke="#fff" stroke-opacity="0.45" stroke-width="0.7"/>
<line x1="374.08" y1="211.83" x2="380.68" y2="222.80" stroke="#fff" stroke-opacity="0.45" stroke-width="0.7"/>
<line x1="254.63" y1="281.89" x2="260.98" y2="293.00" stroke="#fff" stroke-opacity="0.45" stroke-width="0.7"/>
<line x1="12.45" y1="412.89" x2="18.28" y2="424.29" stroke="#fff" stroke-opacity="0.45" stroke-width="0.7"/>
<line x1="265.37" y1="349.40" x2="271.67" y2="360.54" stroke="#fff" stroke-opacity="0.45" stroke-width="0.7"/>
<text x="432.65" y="55.00" font-size="11.3" fill="#0000ff" stroke="#0000ff" stroke-width="0.12" textLength="52.3" lengthAdjust="spacingAndGlyphs">Aave_2018</text>
<text x="410.65" y="68.75" font-size="11.3" fill="#0000ff" stroke="#0000ff" stroke-width="0.12" textLength="52.3" lengthAdjust="spacingAndGlyphs">Aave_2021</text>
<text x="400.65" y="87.00" font-size="11.3" fill="#0000ff" stroke="#0000ff" stroke-width="0.12" textLength="52.3" lengthAdjust="spacingAndGlyphs">Aave_2022</text>
<text x="354.90" y="57.00" font-size="11.3" fill="#0000ff" stroke="#0000ff" stroke-width="0.12" textLength="52.3" lengthAdjust="spacingAndGlyphs">Aave_2023</text>
<text x="360.70" y="99.40" font-size="11.3" fill="#0000ff" stroke="#0000ff" stroke-width="0.12" textLength="52.3" lengthAdjust="spacingAndGlyphs">Aave_2024</text>
<text x="331.80" y="82.80" font-size="11.3" fill="#0000ff" stroke="#0000ff" stroke-width="0.12" textLength="52.3" lengthAdjust="spacingAndGlyphs">Aave_2025</text>
<text x="337.80" y="114.40" font-size="11.3" fill="#0000ff" stroke="#0000ff" stroke-width="0.12" textLength="52.3" lengthAdjust="spacingAndGlyphs">Aave_2026</text>
<text x="294.00" y="59.00" font-size="11.3" fill="#0000ff" stroke="#0000ff" stroke-width="0.12" textLength="52.3" lengthAdjust="spacingAndGlyphs">Aave_2027</text>
<text x="326.80" y="132.40" font-size="11.3" fill="#0000ff" stroke="#0000ff" stroke-width="0.12" textLength="52.3" lengthAdjust="spacingAndGlyphs">Aave_2028</text>
<text x="302.00" y="147.40" font-size="11.3" fill="#0000ff" stroke="#0000ff" stroke-width="0.12" textLength="52.3" lengthAdjust="spacingAndGlyphs">Aave_2029</text>
<text x="277.80" y="162.40" font-size="11.3" fill="#0000ff" stroke="#0000ff" stroke-width="0.12" textLength="52.3" lengthAdjust="spacingAndGlyphs">Aave_2031</text>
<text x="252.80" y="177.40" font-size="11.3" fill="#0000ff" stroke="#0000ff" stroke-width="0.12" textLength="52.3" lengthAdjust="spacingAndGlyphs">Aave_2035</text>
<text x="227.80" y="192.40" font-size="11.3" fill="#0000ff" stroke="#0000ff" stroke-width="0.12" textLength="52.3" lengthAdjust="spacingAndGlyphs">Aave_2036</text>
<text x="202.90" y="206.70" font-size="11.3" fill="#0000ff" stroke="#0000ff" stroke-width="0.12" textLength="52.3" lengthAdjust="spacingAndGlyphs">Aave_2044</text>
<text x="176.70" y="221.80" font-size="11.3" fill="#0000ff" stroke="#0000ff" stroke-width="0.12" textLength="52.3" lengthAdjust="spacingAndGlyphs">Aave_2045</text>
<text x="150.60" y="237.00" font-size="11.3" fill="#0000ff" stroke="#0000ff" stroke-width="0.12" textLength="52.3" lengthAdjust="spacingAndGlyphs">Aave_2046</text>
<text x="124.70" y="251.70" font-size="11.3" fill="#0000ff" stroke="#0000ff" stroke-width="0.12" textLength="52.3" lengthAdjust="spacingAndGlyphs">Aave_2052</text>
<text x="99.70" y="264.70" font-size="11.3" fill="#0000ff" stroke="#0000ff" stroke-width="0.12" textLength="52.3" lengthAdjust="spacingAndGlyphs">Aave_2054</text>
<text x="74.10" y="279.50" font-size="11.3" fill="#0000ff" stroke="#0000ff" stroke-width="0.12" textLength="52.3" lengthAdjust="spacingAndGlyphs">Aave_2055</text>
<text x="26.90" y="259.10" font-size="11.3" fill="#0000ff" stroke="#0000ff" stroke-width="0.12" textLength="52.3" lengthAdjust="spacingAndGlyphs">Aave_2056</text>
<text x="21.60" y="294.80" font-size="11.3" fill="#0000ff" stroke="#0000ff" stroke-width="0.12" textLength="52.3" lengthAdjust="spacingAndGlyphs">Aave_2057</text>
<text x="3.60" y="282.50" font-size="11.3" fill="#0000ff" stroke="#0000ff" stroke-width="0.12" textLength="52.3" lengthAdjust="spacingAndGlyphs">Aave_2058</text>
<text x="542.90" y="276.50" font-size="11.3" fill="#ff0000" stroke="#ff0000" stroke-width="0.12" textLength="52.3" lengthAdjust="spacingAndGlyphs">Aave_2030</text>
<text x="518.60" y="291.50" font-size="11.3" fill="#ff0000" stroke="#ff0000" stroke-width="0.12" textLength="52.3" lengthAdjust="spacingAndGlyphs">Aave_2032</text>
<text x="495.90" y="305.90" font-size="11.3" fill="#ff0000" stroke="#ff0000" stroke-width="0.12" textLength="52.3" lengthAdjust="spacingAndGlyphs">Aave_2033</text>
<text x="472.70" y="320.80" font-size="11.3" fill="#ff0000" stroke="#ff0000" stroke-width="0.12" textLength="52.3" lengthAdjust="spacingAndGlyphs">Aave_2037</text>
<text x="448.80" y="335.40" font-size="11.3" fill="#ff0000" stroke="#ff0000" stroke-width="0.12" textLength="52.3" lengthAdjust="spacingAndGlyphs">Aave_2038</text>
<text x="422.80" y="350.50" font-size="11.3" fill="#ff0000" stroke="#ff0000" stroke-width="0.12" textLength="52.3" lengthAdjust="spacingAndGlyphs">Aave_2039</text>
<text x="397.80" y="365.60" font-size="11.3" fill="#ff0000" stroke="#ff0000" stroke-width="0.12" textLength="52.3" lengthAdjust="spacingAndGlyphs">Aave_2040</text>
<text x="373.00" y="379.60" font-size="11.3" fill="#ff0000" stroke="#ff0000" stroke-width="0.12" textLength="52.3" lengthAdjust="spacingAndGlyphs">Aave_2041</text>
<text x="346.80" y="395.60" font-size="11.3" fill="#ff0000" stroke="#ff0000" stroke-width="0.12" textLength="52.3" lengthAdjust="spacingAndGlyphs">Aave_2042</text>
<text x="317.80" y="411.60" font-size="11.3" fill="#ff0000" stroke="#ff0000" stroke-width="0.12" textLength="52.3" lengthAdjust="spacingAndGlyphs">Aave_2043</text>
<text x="290.50" y="426.00" font-size="11.3" fill="#ff0000" stroke="#ff0000" stroke-width="0.12" textLength="52.3" lengthAdjust="spacingAndGlyphs">Aave_2047</text>
<text x="265.00" y="441.10" font-size="11.3" fill="#ff0000" stroke="#ff0000" stroke-width="0.12" textLength="52.3" lengthAdjust="spacingAndGlyphs">Aave_2048</text>
<text x="238.80" y="455.20" font-size="11.3" fill="#ff0000" stroke="#ff0000" stroke-width="0.12" textLength="52.3" lengthAdjust="spacingAndGlyphs">Aave_2049</text>
<text x="210.80" y="470.50" font-size="11.3" fill="#ff0000" stroke="#ff0000" stroke-width="0.12" textLength="52.3" lengthAdjust="spacingAndGlyphs">Aave_2050</text>
<text x="185.00" y="485.10" font-size="11.3" fill="#ff0000" stroke="#ff0000" stroke-width="0.12" textLength="52.3" lengthAdjust="spacingAndGlyphs">Aave_2051</text>
<text x="155.90" y="500.00" font-size="11.3" fill="#ff0000" stroke="#ff0000" stroke-width="0.12" textLength="52.3" lengthAdjust="spacingAndGlyphs">Aave_2060</text>
<text x="116.70" y="521.30" font-size="11.3" fill="#ff0000" stroke="#ff0000" stroke-width="0.12" textLength="52.3" lengthAdjust="spacingAndGlyphs">Aave_2063</text>
<text x="88.70" y="535.50" font-size="11.3" fill="#ff0000" stroke="#ff0000" stroke-width="0.12" textLength="52.3" lengthAdjust="spacingAndGlyphs">Aave_2064</text>
<rect x="532.20" y="63.30" width="39.5" height="10" fill="#fff" fill-opacity="0.6"/>
<text x="532.70" y="70.80" font-size="8.3" fill="#222" textLength="38.3" lengthAdjust="spacingAndGlyphs">2190 kbp</text>
<rect x="462.30" y="108.30" width="39.5" height="10" fill="#fff" fill-opacity="0.6"/>
<text x="462.80" y="115.80" font-size="8.3" fill="#222" textLength="38.3" lengthAdjust="spacingAndGlyphs">2200 kbp</text>
<rect x="391.50" y="153.30" width="39.5" height="10" fill="#fff" fill-opacity="0.6"/>
<text x="392.00" y="160.80" font-size="8.3" fill="#222" textLength="38.3" lengthAdjust="spacingAndGlyphs">2210 kbp</text>
<rect x="320.30" y="196.50" width="39.5" height="10" fill="#fff" fill-opacity="0.6"/>
<text x="320.80" y="204.00" font-size="8.3" fill="#222" textLength="38.3" lengthAdjust="spacingAndGlyphs">2220 kbp</text>
<rect x="248.20" y="238.30" width="39.5" height="10" fill="#fff" fill-opacity="0.6"/>
<text x="248.70" y="245.80" font-size="8.3" fill="#222" textLength="38.3" lengthAdjust="spacingAndGlyphs">2230 kbp</text>
<rect x="175.30" y="280.00" width="39.5" height="10" fill="#fff" fill-opacity="0.6"/>
<text x="175.80" y="287.50" font-size="8.3" fill="#222" textLength="38.3" lengthAdjust="spacingAndGlyphs">2240 kbp</text>
<rect x="102.70" y="320.00" width="39.5" height="10" fill="#fff" fill-opacity="0.6"/>
<text x="103.20" y="327.50" font-size="8.3" fill="#222" textLength="38.3" lengthAdjust="spacingAndGlyphs">2250 kbp</text>
<rect x="28.20" y="359.50" width="39.5" height="10" fill="#fff" fill-opacity="0.6"/>
<text x="28.70" y="367.00" font-size="8.3" fill="#222" textLength="38.3" lengthAdjust="spacingAndGlyphs">2260 kbp</text>
<text x="86.5" y="22.6" font-size="13.8" font-style="italic" fill="#000" textLength="426" lengthAdjust="spacing">Acidovorax avenae subsp. citrulli AAC00-1, complete genome</text>
<text x="9.5" y="586.8" font-size="12.6" fill="#000" textLength="134" lengthAdjust="spacing">Accession: NC_008752</text>
<text x="261" y="586.8" font-size="12.6" fill="#000" textLength="329" lengthAdjust="spacing">Topology: circular; Length: 5,352,772 bp; Genes: 4,774</text>
</svg>
</body></html>
